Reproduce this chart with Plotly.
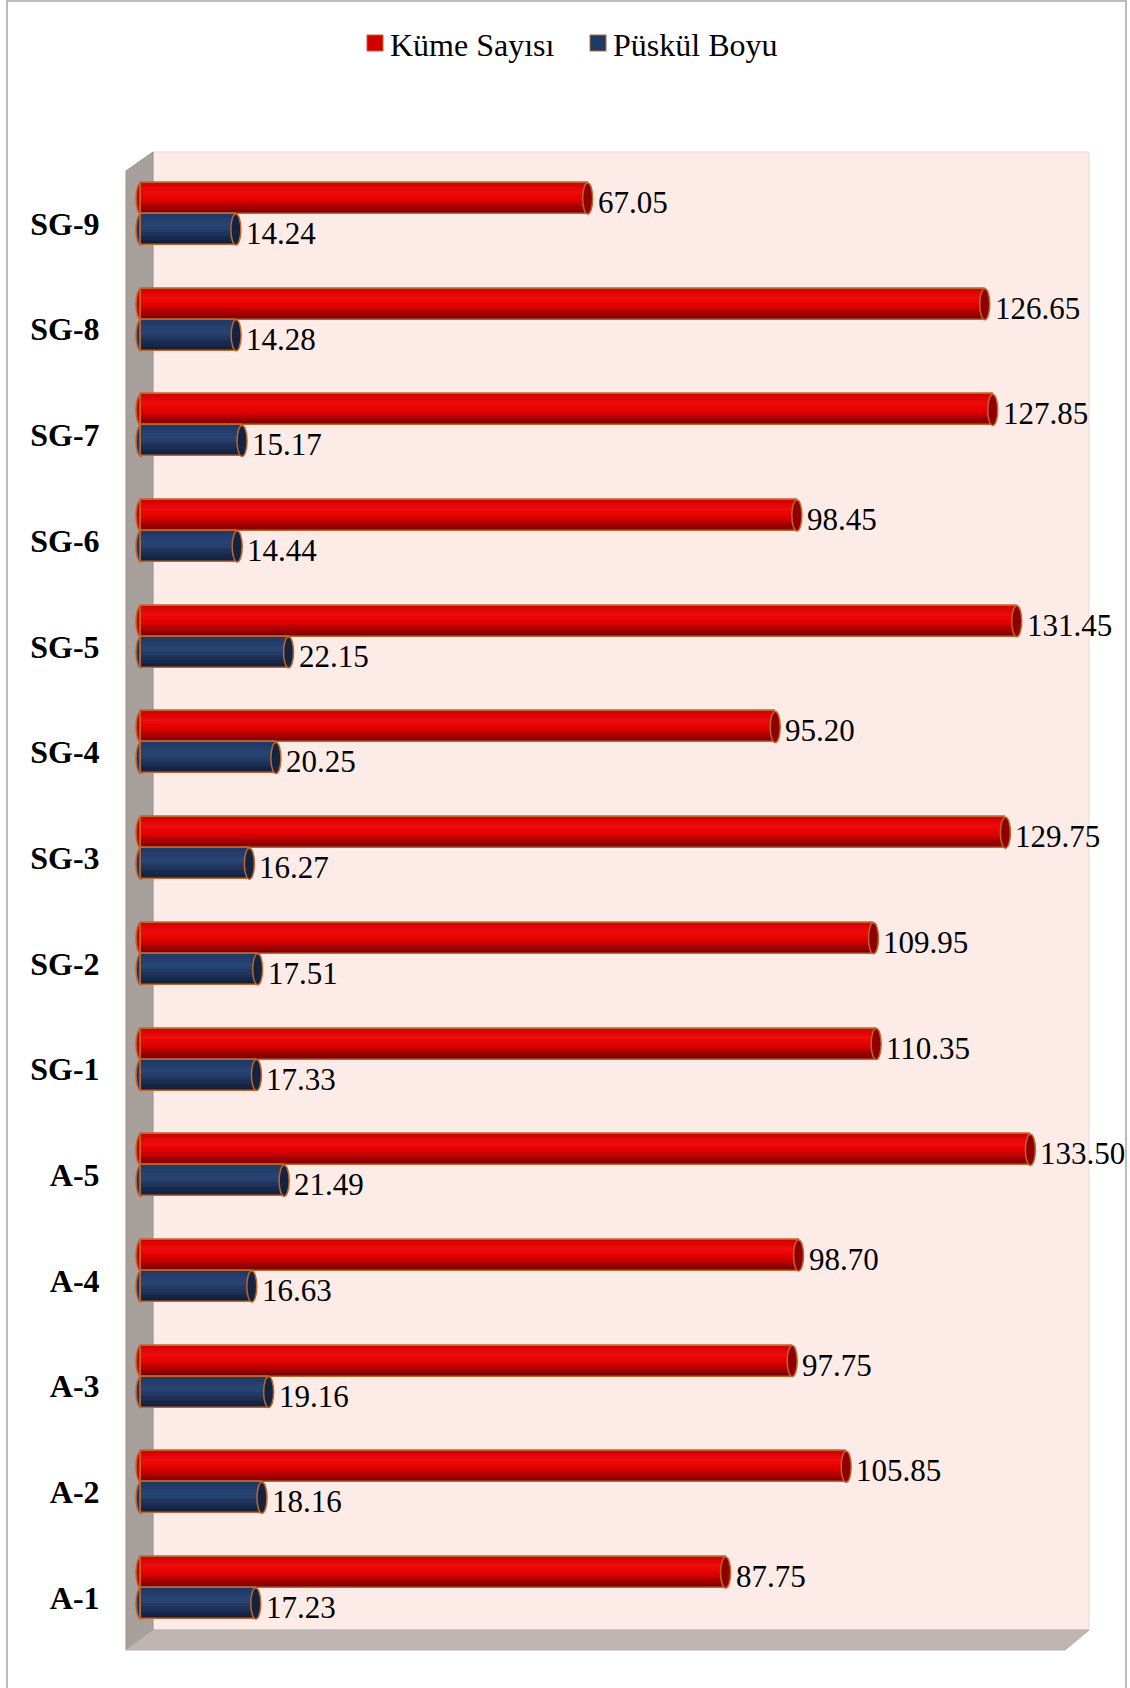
import plotly.graph_objects as go

# ---------------- data ----------------
categories = ["A-1", "A-2", "A-3", "A-4", "A-5",
              "SG-1", "SG-2", "SG-3", "SG-4", "SG-5",
              "SG-6", "SG-7", "SG-8", "SG-9"]
kume_sayisi = [87.75, 105.85, 97.75, 98.70, 133.50,
               110.35, 109.95, 129.75, 95.20, 131.45,
               98.45, 127.85, 126.65, 67.05]
puskul_boyu = [17.23, 18.16, 19.16, 16.63, 21.49,
               17.33, 17.51, 16.27, 20.25, 22.15,
               14.44, 15.17, 14.28, 14.24]
series_names = ["Küme Sayısı", "Püskül Boyu"]

idx = list(range(len(categories)))

# ---------------- layout geometry (pixels) ----------------
FIG_W, FIG_H = 1130, 1688
L, R, T, B = 126, 1089, 152, 1650
PW, PH = R - L, B - T


def px(x):
    return (x - L) / PW


def py(y):
    return (B - y) / PH


BW = 0.2933          # bar thickness in category units
CAP = 0.75           # half width of end cap in value units
OUTLINE = "#c0652a"
FONT = "Liberation Serif"

red_base, blue_base = "#d00000", "#203a66"
# gradient stops (fraction from bottom of bar, colour)
red_stops = [(0.0, (110, 0, 0)), (0.28, (180, 0, 0)), (0.48, (230, 0, 0)),
             (0.72, (238, 12, 12)), (1.0, (210, 0, 0))]
blue_stops = [(0.0, (15, 26, 51)), (0.35, (30, 50, 90)), (0.6, (42, 69, 117)),
              (1.0, (31, 56, 100))]
NBANDS = 12


def colour_at(stops, f):
    for (f0, c0), (f1, c1) in zip(stops[:-1], stops[1:]):
        if f0 <= f <= f1:
            t = (f - f0) / (f1 - f0)
            c = [round(a + (b - a) * t) for a, b in zip(c0, c1)]
            return f"rgb({c[0]},{c[1]},{c[2]})"
    c = stops[-1][1]
    return f"rgb({c[0]},{c[1]},{c[2]})"


fig = go.Figure()


def add_cylinder(values, offset, base, stops, name):
    fig.add_trace(go.Bar(
        x=values, y=idx, orientation="h", name=name, showlegend=False,
        width=BW, offset=offset, marker=dict(color=base, line=dict(color=OUTLINE, width=1.5)),
        hoverinfo="skip"))
    for k in range(NBANDS):
        f0, f1 = k / NBANDS, (k + 1) / NBANDS
        fig.add_trace(go.Bar(
            x=values, y=idx, orientation="h", showlegend=False,
            width=BW * (f1 - f0) * 1.02, offset=offset + BW * f0,
            marker=dict(color=colour_at(stops, (f0 + f1) / 2), line=dict(width=0)),
            hoverinfo="skip"))
    fig.add_trace(go.Bar(
        x=values, y=idx, orientation="h", showlegend=False,
        width=BW, offset=offset,
        marker=dict(color="rgba(0,0,0,0)", line=dict(color=OUTLINE, width=1.5)),
        hoverinfo="skip"))


add_cylinder(kume_sayisi, 0.0, red_base, red_stops, series_names[0])
add_cylinder(puskul_boyu, -BW, blue_base, blue_stops, series_names[1])

shapes = []
# outer frame
shapes.append(dict(type="rect", xref="paper", yref="paper",
                   x0=px(7), x1=px(1126), y0=py(1), y1=py(1720),
                   line=dict(color="#a6a6a6", width=1.5), fillcolor="rgba(0,0,0,0)", layer="below"))
# back wall
shapes.append(dict(type="rect", xref="paper", yref="paper",
                   x0=px(153), x1=px(1089), y0=py(1630), y1=py(152),
                   line=dict(color="#f3d6d0", width=1), fillcolor="#fcebe7", layer="below"))
# left wall
shapes.append(dict(type="path", xref="paper", yref="paper",
                   path=f"M{px(126)},{py(171)} L{px(153)},{py(152)} L{px(153)},{py(1630)} L{px(126)},{py(1650)} Z",
                   line=dict(color="#9a9390", width=1), fillcolor="#a7a09d", layer="below"))
# floor
shapes.append(dict(type="path", xref="paper", yref="paper",
                   path=f"M{px(126)},{py(1650)} L{px(153)},{py(1630)} L{px(1089)},{py(1630)} L{px(1065)},{py(1650)} Z",
                   line=dict(color="#b5aba8", width=1), fillcolor="#bfb5b2", layer="below"))

annotations = []
for vals, offset, base, capcol in [(kume_sayisi, 0.0, red_base, "#8e0000"),
                                   (puskul_boyu, -BW, blue_base, "#14233f")]:
    for i, v in zip(idx, vals):
        # rounded start
        shapes.append(dict(type="circle", xref="x", yref="y",
                           x0=-CAP, x1=CAP, y0=i + offset, y1=i + offset + BW,
                           fillcolor=base, line=dict(color=OUTLINE, width=1.5), layer="below"))
        # front end face
        shapes.append(dict(type="circle", xref="x", yref="y",
                           x0=v - CAP, x1=v + CAP, y0=i + offset, y1=i + offset + BW,
                           fillcolor=capcol, line=dict(color=OUTLINE, width=1.5), layer="above"))
        annotations.append(dict(x=v, y=i + offset + BW / 2, xref="x", yref="y",
                                text=f"{v:.2f}", showarrow=False, xanchor="left",
                                xshift=8, yshift=-4,
                                font=dict(family=FONT, size=31, color="#000000")))

# legend (squares + text)
legend_items = [(series_names[0], red_base, 367), (series_names[1], blue_base, 590)]
for name, col, x0 in legend_items:
    shapes.append(dict(type="rect", xref="paper", yref="paper",
                       x0=px(x0), x1=px(x0 + 16), y0=py(51), y1=py(35),
                       fillcolor=col, line=dict(color=OUTLINE, width=1)))
    annotations.append(dict(x=px(x0 + 21), y=py(45), xref="paper", yref="paper",
                            text=name, showarrow=False, xanchor="left", yanchor="middle",
                            font=dict(family=FONT, size=32, color="#000000")))

fig.update_layout(
    width=FIG_W, height=FIG_H,
    margin=dict(l=L, r=FIG_W - R, t=T, b=FIG_H - B, pad=0),
    paper_bgcolor="#ffffff", plot_bgcolor="rgba(0,0,0,0)",
    barmode="overlay", bargap=0,
    shapes=shapes, annotations=annotations,
    showlegend=False,
    xaxis=dict(range=[-2.25, 142.3], visible=False, fixedrange=True),
    yaxis=dict(range=[-0.587, 13.587], tickmode="array",
               tickvals=[i - 0.09 for i in idx], ticktext=categories,
               ticks="outside", ticklen=19, tickcolor="rgba(0,0,0,0)",
               showgrid=False, zeroline=False, showline=False,
               tickfont=dict(family=FONT, size=32, color="#000000", weight="bold"),
               fixedrange=True),
)

fig.write_html("out.html", config={"displayModeBar": False},
               post_script="document.body.style.margin='0';")
